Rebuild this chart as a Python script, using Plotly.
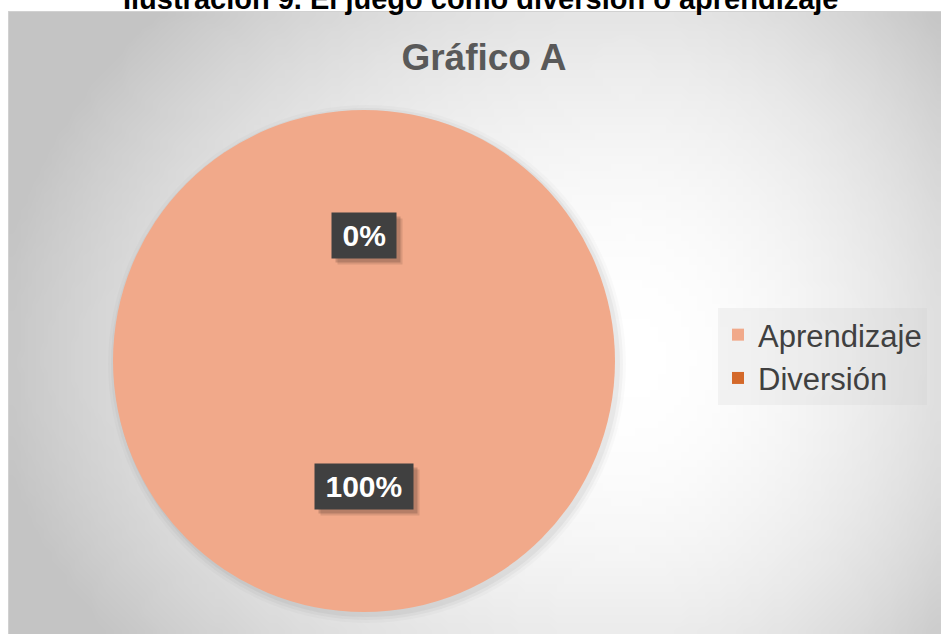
import math
import zlib
import struct
import base64
import plotly.graph_objects as go

# ---------------- data ----------------
labels = ["Aprendizaje", "Diversión"]
values = [100, 0]
colors = ["#F1A98A", "#D4692A"]
chart_title = "Gráfico A"
caption = "Ilustración 9. El juego como diversión o aprendizaje"

# ---------------- geometry helpers (figure pixels) ----------------
FW, FH = 941, 634
FONT = "Liberation Sans, Arial, sans-serif"


def px(x):
    return x / FW


def py(y):
    return 1 - y / FH


# chart area (Office-style chart box)
AX0, AY0 = 9, 12
# pie box
PX0, PX1, PY0, PY1 = 113, 615, 110, 612
PCX, PCY = (PX0 + PX1) / 2, (PY0 + PY1) / 2
PR = (PX1 - PX0) / 2


# ---------------- radial gradient background as a small PNG ----------------
def make_png(w, h, fn):
    rows = []
    for j in range(h):
        row = bytearray([0])
        for i in range(w):
            v = fn(i, j)
            row += bytes([v, v, v])
        rows.append(bytes(row))
    raw = b"".join(rows)

    def chunk(t, d):
        return struct.pack(">I", len(d)) + t + d + struct.pack(">I", zlib.crc32(t + d) & 0xFFFFFFFF)

    return (b"\x89PNG\r\n\x1a\n"
            + chunk(b"IHDR", struct.pack(">IIBBBBB", w, h, 8, 2, 0, 0, 0))
            + chunk(b"IDAT", zlib.compress(raw, 9))
            + chunk(b"IEND", b""))


GW, GH = 120, 80
GX1, GY1 = FW, FH


def grad(i, j):
    x = AX0 + (i + 0.5) / GW * (GX1 - AX0)
    y = AY0 + (j + 0.5) / GH * (GY1 - AY0)
    cx, cy = 630, 360
    rx = 640 if x < cx else 420
    ry = 520 if y < cy else 480
    t = math.hypot((x - cx) / rx, (y - cy) / ry)
    t = min(t, 1.0)
    return int(round(255 - 59 * t ** 2))


png = make_png(GW, GH, grad)
uri = "data:image/png;base64," + base64.b64encode(png).decode()

# ---------------- figure ----------------
fig = go.Figure()
fig.add_trace(go.Pie(
    labels=labels,
    values=values,
    marker=dict(colors=colors, line=dict(width=0)),
    sort=False,
    direction="clockwise",
    rotation=0,
    textinfo="none",
    hoverinfo="label+percent",
    domain=dict(x=[px(PX0), px(PX1)], y=[py(PY1), py(PY0)]),
    showlegend=True,
))

# data labels placed at mid-angle of each slice, half radius from the centre
total = sum(values)
glyph_w = {"0": .556, "1": .556, "2": .556, "3": .556, "4": .556, "5": .556,
           "6": .556, "7": .556, "8": .556, "9": .556, "%": .889}
LBL_SIZE = 30
annotations = []
cum = 0.0
for lab, v in zip(labels, values):
    frac = v / total
    mid = (cum + frac / 2) * 2 * math.pi
    cum += frac
    lx = PCX + 0.5 * PR * math.sin(mid)
    ly = PCY - 0.5 * PR * math.cos(mid)
    txt = f"{round(frac * 100)}%"
    tw = sum(glyph_w.get(c, .6) for c in txt) * LBL_SIZE + 17
    for dx, dy, col in [(6, 6, "rgba(0,0,0,0.10)"), (4, 4, "rgba(0,0,0,0.16)")]:
        annotations.append(dict(
            x=px(lx + dx), y=py(ly + dy), xref="paper", yref="paper",
            text=txt, showarrow=False, width=tw, height=41, borderpad=2,
            bgcolor=col, font=dict(family=FONT, size=LBL_SIZE, color="rgba(0,0,0,0)", weight="bold"),
            xanchor="center", yanchor="middle"))
    annotations.append(dict(
        x=px(lx), y=py(ly), xref="paper", yref="paper",
        text=txt, showarrow=False, width=tw, height=41, borderpad=2,
        bgcolor="#404040", font=dict(family=FONT, size=LBL_SIZE, color="white", weight="bold"),
        xanchor="center", yanchor="middle"))

# caption (cut off at the top as in the source)
annotations.append(dict(
    x=px(481), y=py(17), xref="paper", yref="paper", text=caption, showarrow=False,
    font=dict(family=FONT, size=29, color="black", weight="bold"),
    xanchor="center", yanchor="bottom"))

shapes = []
# soft shadow of the pie
for k, a in [(8, 0.02), (5, 0.03), (2, 0.04)]:
    shapes.append(dict(type="circle", xref="paper", yref="paper",
                       x0=px(PX0 - k + 3), x1=px(PX1 + k + 3), y0=py(PY1 + k + 3), y1=py(PY0 - k + 3),
                       fillcolor=f"rgba(0,0,0,{a})", line=dict(width=0), layer="below"))
# chart area border
shapes.append(dict(type="rect", xref="paper", yref="paper",
                   x0=px(AX0 - 0.5), x1=1.02, y0=-0.02, y1=py(AY0 - 0.5),
                   line=dict(color="rgba(0,0,0,0.18)", width=1), fillcolor="rgba(0,0,0,0)", layer="below"))

fig.update_layout(
    width=FW, height=FH,
    margin=dict(l=0, r=0, t=0, b=0, autoexpand=False),
    paper_bgcolor="white",
    plot_bgcolor="white",
    font=dict(family=FONT, color="#404040"),
    title=dict(text=chart_title, x=px(484), y=py(57), xref="paper", yref="paper",
               xanchor="center", yanchor="middle",
               font=dict(family=FONT, size=37, color="#595959", weight="bold")),
    legend=dict(x=px(718), y=py(308), xanchor="left", yanchor="top",
                bgcolor="rgba(200,200,200,0.18)", borderwidth=0,
                font=dict(family=FONT, size=31, color="#404040"),
                traceorder="normal"),
    images=[dict(source=uri, xref="paper", yref="paper", x=px(AX0), y=py(AY0),
                 sizex=(GX1 - AX0) / FW, sizey=(GY1 - AY0) / FH,
                 xanchor="left", yanchor="top", sizing="stretch", layer="below")],
    shapes=shapes,
    annotations=annotations,
)

fig.write_html("out.html",
               config={"displayModeBar": False},
               post_script="document.body.style.margin='0';document.body.style.overflow='hidden';")
